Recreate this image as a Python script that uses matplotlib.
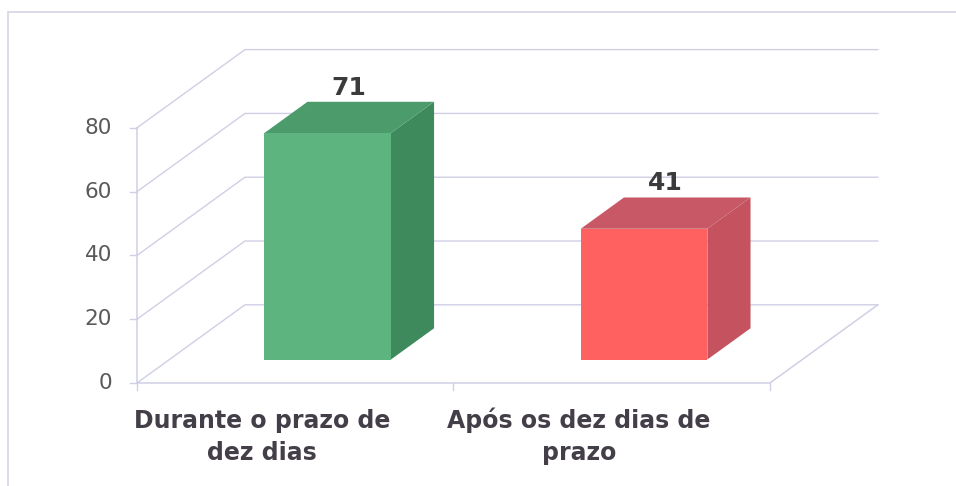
import matplotlib.pyplot as plt
from matplotlib.patches import Polygon, Rectangle

# dados
categorias = ['Durante o prazo de\ndez dias', 'Após os dez dias de\nprazo']
valores = [71, 41]
ticks_y = [0, 20, 40, 60, 80]

cor_frente = ['#5db47e', '#ff6060']
cor_lado = ['#3f8a5d', '#c4525f']
cor_topo = ['#4c9c6b', '#c95867']

# profundidade do "3D" (em unidades de dados)
DX = 0.341
DY = 24.5
Y_MAX = 80
LARG = 0.2          # meia largura da barra
D0, D1 = 0.3, 0.7   # profundidade da frente e do fundo da barra

grade = '#cfcfe6'
texto_eixo = '#595959'
texto_cat = '#433e48'


def proj(x, y, d):
    return (x + d * DX, y + d * DY)


fig = plt.figure(figsize=(9.56, 4.86), dpi=100)
ax = fig.add_axes([0, 0, 1, 1])
ax.set_xlim(-0.933, 2.088)
ax.set_ylim(-32.3, 120.06)
ax.axis('off')

# moldura da área do gráfico
fig.patches.append(Rectangle((0.008, -0.1), 1.1, 1.075, transform=fig.transFigure,
                             fill=False, edgecolor='#d6d6e4', lw=1.2))

x0, x1 = -0.5, len(categorias) - 0.5

# linhas de grade: parede lateral e parede do fundo
for t in ticks_y:
    a = proj(x0, t, 0)
    b = proj(x0, t, 1)
    c = proj(x1, t, 1)
    ax.plot([a[0], b[0], c[0]], [a[1], b[1], c[1]], color=grade, lw=1, zorder=1)

# chão
fa, fb = proj(x0, 0, 0), proj(x1, 0, 0)
fc = proj(x1, 0, 1)
ax.plot([fa[0], fb[0], fc[0]], [fa[1], fb[1], fc[1]], color=grade, lw=1.1, zorder=1)

# eixo vertical da frente
ax.plot([x0, x0], [0, Y_MAX], color=grade, lw=1.1, zorder=1)
for t in ticks_y:
    ax.plot([x0 - 0.022, x0], [t, t], color=grade, lw=1, zorder=1)
    ax.text(x0 - 0.079, t, str(t), ha='right', va='center', fontsize=15.5,
            color=texto_eixo, family='DejaVu Sans')

# marcas de categoria no chão
for k in range(len(categorias) + 1):
    xk = x0 + k
    ax.plot([xk, xk], [0, -2.2], color=grade, lw=1, zorder=1)

# barras 3D
for i, v in enumerate(valores):
    xl, xr = i - LARG, i + LARG
    frente = [proj(xl, 0, D0), proj(xr, 0, D0), proj(xr, v, D0), proj(xl, v, D0)]
    lado = [proj(xr, 0, D0), proj(xr, 0, D1), proj(xr, v, D1), proj(xr, v, D0)]
    topo = [proj(xl, v, D0), proj(xr, v, D0), proj(xr, v, D1), proj(xl, v, D1)]
    ax.add_patch(Polygon(lado, closed=True, facecolor=cor_lado[i], edgecolor='none', zorder=3))
    ax.add_patch(Polygon(topo, closed=True, facecolor=cor_topo[i], edgecolor='none', zorder=3))
    ax.add_patch(Polygon(frente, closed=True, facecolor=cor_frente[i], edgecolor='none', zorder=4))
    tx = proj(i, v, 0.5)[0]
    ty = proj(i, v, D1)[1]
    ax.text(tx, ty + 2.2, str(v), ha='center', va='baseline', fontsize=18,
            fontweight='bold', color='#3b3b3b', family='DejaVu Sans', zorder=5)

# rótulos das categorias (uma linha de cada vez)
for i, c in enumerate(categorias):
    for j, linha in enumerate(c.split('\n')):
        ax.text(i - 0.104, -14.1 - j * 10.0, linha, ha='center', va='baseline',
                fontsize=17, fontweight='bold', color=texto_cat, family='DejaVu Sans')

fig.savefig('out.png', dpi=100)
